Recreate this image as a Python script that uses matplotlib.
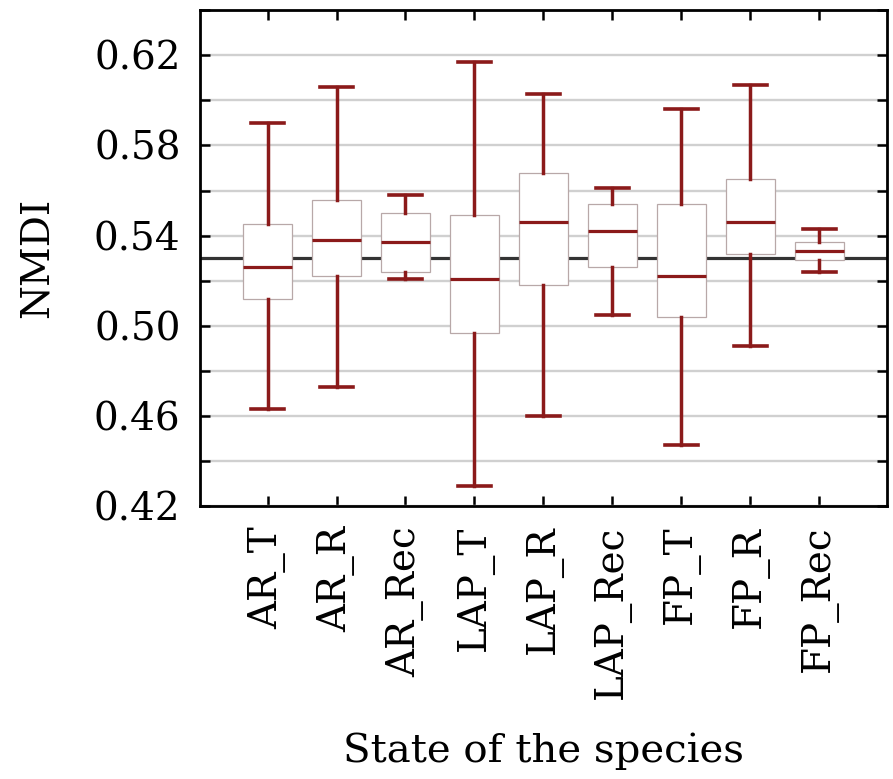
import numpy as np
import matplotlib
matplotlib.use("Agg")
import matplotlib.pyplot as plt

# valeurs
categorias = ['AR_T', 'AR_R', 'AR_Rec', 'LAP_T', 'LAP_R', 'LAP_Rec', 'FP_T', 'FP_R', 'FP_Rec']
minimo = [0.463, 0.473, 0.521, 0.429, 0.460, 0.505, 0.447, 0.491, 0.524]
q1 = [0.512, 0.522, 0.524, 0.497, 0.518, 0.526, 0.504, 0.532, 0.529]
mediana = [0.526, 0.538, 0.537, 0.521, 0.546, 0.542, 0.522, 0.546, 0.533]
q3 = [0.545, 0.556, 0.550, 0.549, 0.568, 0.554, 0.554, 0.565, 0.537]
maximo = [0.590, 0.606, 0.558, 0.617, 0.603, 0.561, 0.596, 0.607, 0.543]
referencia = 0.53

rojo = '#8b1a1a'

plt.rcParams['font.family'] = ['DejaVu Serif']

fig = plt.figure(figsize=(8.93, 7.79), dpi=100)
ax = fig.add_axes([0.224, 0.350, 0.769, 0.637])

stats = []
for i, c in enumerate(categorias):
    stats.append({'label': c, 'whislo': minimo[i], 'q1': q1[i], 'med': mediana[i],
                  'q3': q3[i], 'whishi': maximo[i], 'fliers': []})

pos = np.arange(1, len(categorias) + 1)
ax.axhline(referencia, color='#333333', lw=2.3, zorder=1.5)
ax.bxp(stats, positions=pos, widths=0.71, patch_artist=True, showfliers=False,
       boxprops=dict(facecolor='white', edgecolor='#b8a8a8', lw=0.9),
       medianprops=dict(color=rojo, lw=2.3),
       whiskerprops=dict(color=rojo, lw=2.5),
       capprops=dict(color=rojo, lw=2.6),
       capwidths=0.48, zorder=2)

ax.set_xlim(0.02, 9.98)
ax.set_ylim(0.42, 0.64)
ax.set_yticks(np.arange(0.42, 0.621, 0.04))
ax.set_yticks(np.arange(0.44, 0.641, 0.04), minor=True)
ax.set_yticklabels(['%.2f' % v for v in np.arange(0.42, 0.621, 0.04)])
ax.set_xticks(pos)
ax.set_xticklabels(categorias, rotation=90)

ax.grid(axis='y', which='both', color='#d0d0d0', lw=1.7, zorder=0)
ax.set_axisbelow(True)

ax.tick_params(axis='both', which='both', direction='in', length=7, width=1.8,
               top=True, right=True, labelsize=28, colors='black')
ax.tick_params(axis='y', pad=14)
ax.tick_params(axis='x', pad=14)
for s in ax.spines.values():
    s.set_linewidth(2.0)

ax.set_ylabel('NMDI', fontsize=28)
ax.yaxis.set_label_coords(-0.211, 0.5)
ax.set_xlabel('State of the species', fontsize=29)
ax.xaxis.set_label_coords(0.5, -0.455)

fig.savefig('out.png', dpi=100)
